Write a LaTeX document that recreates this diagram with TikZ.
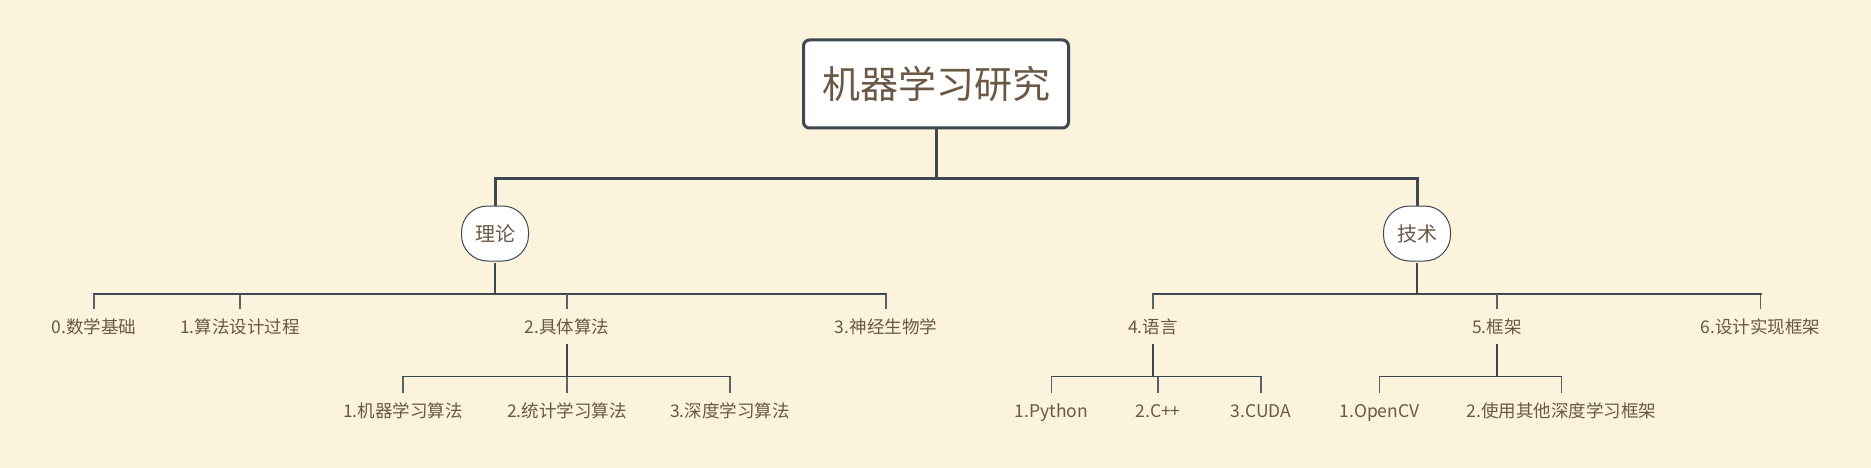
\documentclass[tikz,border=0pt]{standalone}
\usepackage{fontspec}
\setmainfont{Noto Sans CJK SC}
\usetikzlibrary{calc}
\definecolor{bgc}{HTML}{FBF3DC}
\definecolor{txt}{HTML}{6B5844}
\definecolor{ln}{HTML}{3E4850}
\definecolor{lnl}{HTML}{5A6268}
\tikzset{
 rootbox/.style={draw=ln, line width=3pt, fill=white, rounded corners=6pt, minimum width=265pt, minimum height=88pt, inner sep=0pt, font=\fontsize{38}{44}\selectfont, text=txt},
 topic/.style={draw=ln, line width=1pt, fill=white, rounded corners=26pt, minimum width=67pt, minimum height=55pt, inner sep=0pt, font=\fontsize{20}{24}\selectfont, text=txt},
 leaf/.style={inner xsep=0pt, inner ysep=9pt, text height=15.4pt, text depth=2.1pt, font=\fontsize{17.5}{21}\selectfont, text=txt},
 lone/.style={draw=ln, line width=3pt},
 ltwo/.style={draw=ln, line width=2pt, line cap=rect},
 lthree/.style={draw=ln, line width=1.6pt, line cap=rect},
 drop/.style={draw=lnl, line width=1.4pt},
}
\begin{document}
\begin{tikzpicture}[x=1pt,y=-1pt]
\fill[bgc] (0,0) rectangle (1871,468);
\useasboundingbox (0,0) rectangle (1871,468);
\coordinate (b1) at (0,178);
\coordinate (b2) at (0,294);
\coordinate (b3) at (0,376.5);
% nodes
\node[rootbox] (root) at (936,84) {机器学习研究};
\node[topic] (lilun) at (495,233.5) {理论};
\node[topic] (jishu) at (1417,233.5) {技术};
\node[leaf] (t0) at (94,327) {0.数学基础};
\node[leaf] (t1) at (240,327) {1.算法设计过程};
\node[leaf] (t2) at (567,327) {2.具体算法};
\node[leaf] (t3) at (886,327) {3.神经生物学};
\node[leaf] (s1) at (403,411) {1.机器学习算法};
\node[leaf] (s2) at (567,411) {2.统计学习算法};
\node[leaf] (s3) at (730,411) {3.深度学习算法};
\node[leaf] (j4) at (1153,327) {4.语言};
\node[leaf] (j5) at (1497,327) {5.框架};
\node[leaf] (j6) at (1760.5,327) {6.设计实现框架};
\node[leaf] (p1) at (1051.5,411) {1.Python};
\node[leaf] (p2) at (1158,411) {2.C++};
\node[leaf] (p3) at (1261,411) {3.CUDA};
\node[leaf] (f1) at (1379.5,411) {1.OpenCV};
\node[leaf] (f2) at (1561.5,411) {2.使用其他深度学习框架};
% level 1
\draw[lone] (root.south) -- (root.south |- b1);
\draw[lone] (lilun.north) -- (lilun.north |- b1) -- (jishu.north |- b1) -- (jishu.north);
% theory level 2
\draw[ltwo, shorten <=2pt] (lilun.south) -- (lilun.south |- b2);
\draw[ltwo] (t0.north |- b2) -- (t3.north |- b2);
\foreach \c in {t0,t1,t2,t3} \draw[drop] (\c.north |- b2) -- (\c.north);
% tech level 2
\draw[ltwo, shorten <=2pt] (jishu.south) -- (jishu.south |- b2);
\draw[ltwo] (j4.north |- b2) -- (j6.north |- b2);
\foreach \c in {j4,j5,j6} \draw[drop] (\c.north |- b2) -- (\c.north);
% level 3 under 2.具体算法
\draw[lthree] (t2.south) -- (t2.south |- b3);
\draw[lthree] (s1.north |- b3) -- (s3.north |- b3);
\foreach \c in {s1,s2,s3} \draw[drop] (\c.north |- b3) -- (\c.north);
% level 3 under 4.语言
\draw[lthree] (j4.south) -- (j4.south |- b3);
\draw[lthree] (p1.north |- b3) -- (p3.north |- b3);
\foreach \c in {p1,p2,p3} \draw[drop] (\c.north |- b3) -- (\c.north);
% level 3 under 5.框架
\draw[lthree] (j5.south) -- (j5.south |- b3);
\draw[lthree] (f1.north |- b3) -- (f2.north |- b3);
\foreach \c in {f1,f2} \draw[drop] (\c.north |- b3) -- (\c.north);
\end{tikzpicture}
\end{document}
